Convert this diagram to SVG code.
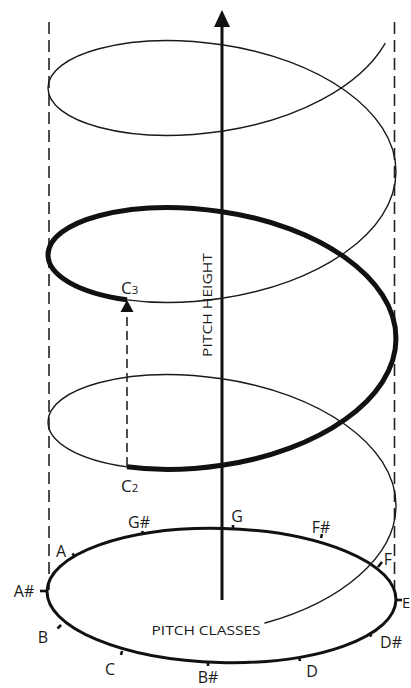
<svg xmlns="http://www.w3.org/2000/svg" width="411" height="688" viewBox="0 0 411 688">
<style>
.bg{fill:#fff}
.guide{fill:none;stroke:#222;stroke-width:1.6;stroke-dasharray:12 6}
.thin{fill:none;stroke:#1a1a1a;stroke-width:1.4;stroke-linecap:round}
.thick{fill:none;stroke:#111;stroke-width:5;stroke-linecap:butt}
.axis{fill:none;stroke:#111;stroke-width:3}
.ring{fill:none;stroke:#111;stroke-width:3}
.tick{stroke:#111;stroke-width:2.6}
.lbl{font-family:"Open Sans","Liberation Sans",sans-serif;font-size:16px;fill:#1a1a1a}
.cap{font-family:"Open Sans","Liberation Sans",sans-serif;font-size:13.5px;fill:#1a1a1a}
.big{font-family:"Open Sans","Liberation Sans",sans-serif;font-size:17px;fill:#1a1a1a}
.sub{font-family:"Open Sans","Liberation Sans",sans-serif;font-size:11.5px;fill:#1a1a1a}
</style>
<rect class="bg" x="0" y="0" width="411" height="688"/>
<g id="guides">
<line class="guide" x1="49" y1="22" x2="49" y2="590"/>
<line class="guide" x1="394.5" y1="22" x2="394.5" y2="597"/>
</g>
<g id="pitch-classes-ring">
<ellipse class="ring" cx="221.5" cy="595.5" rx="174.5" ry="67" transform="rotate(1.48 221.5 595.5)"/>
<line class="tick" x1="233" y1="529" x2="233" y2="525"/>
<line class="tick" x1="143" y1="535" x2="142.2" y2="531"/>
<line class="tick" x1="321" y1="538" x2="322" y2="534"/>
<line class="tick" x1="75" y1="557" x2="72.5" y2="553.5"/>
<line class="tick" x1="378" y1="567" x2="382" y2="562"/>
<line class="tick" x1="47" y1="591" x2="40" y2="591"/>
<line class="tick" x1="396" y1="600" x2="402" y2="600"/>
<line class="tick" x1="61" y1="625" x2="57.5" y2="628.5"/>
<line class="tick" x1="369" y1="633" x2="371.5" y2="636.5"/>
<line class="tick" x1="122" y1="651" x2="121" y2="655"/>
<line class="tick" x1="299" y1="657" x2="300" y2="661"/>
<line class="tick" x1="208" y1="662" x2="208" y2="666"/>
<text class="lbl" x="237" y="522" text-anchor="middle">G</text>
<text class="lbl" x="139" y="528" text-anchor="middle">G#</text>
<text class="lbl" x="321" y="533" text-anchor="middle">F#</text>
<text class="lbl" x="61" y="557" text-anchor="middle">A</text>
<text class="lbl" x="388" y="565" text-anchor="middle">F</text>
<text class="lbl" x="24" y="597" text-anchor="middle">A#</text>
<text class="lbl" x="402" y="608" style="font-size:15px">E</text>
<text class="lbl" x="43" y="643" text-anchor="middle">B</text>
<text class="lbl" x="391" y="648" text-anchor="middle">D#</text>
<text class="lbl" x="110" y="675" text-anchor="middle">C</text>
<text class="lbl" x="312" y="677" text-anchor="middle">D</text>
<text class="lbl" x="208" y="683" text-anchor="middle">B#</text>
<text class="cap" x="206" y="635" text-anchor="middle" textLength="109" lengthAdjust="spacingAndGlyphs">PITCH CLASSES</text>
</g>
<g id="pitch-height-axis">
<line class="axis" x1="222" y1="600" x2="222" y2="24"/>
<path d="M222,10 L230,27 L214,27 Z" fill="#111"/>
<text class="cap" transform="translate(211.5 305) rotate(-90)" text-anchor="middle" textLength="104" lengthAdjust="spacingAndGlyphs">PITCH HEIGHT</text>
</g>
<g id="helix">
<path class="thin" d="M385,43.6 C359.6,87.6 294.7,120.5 222,131.25 C125.9,145.17 48,121.03 48,88 C48,54.97 125.9,30.83 222,44.75 C318.1,58.67 396,110.63 396,171.5 C396,232.37 318.1,284.33 222,298.25 C188.25,303.370 155.28,303.72 127,299.84"/>
<path class="thick" d="M127,299.84 C77.72,292.96 48,274.93 48,255 C48,221.97 125.9,197.83 222,211.75 C318.1,225.67 396,277.63 396,338.5 C396,399.37 318.1,451.33 222,465.25 C188.25,470.37 155.28,470.72 127,466.84"/>
<path class="thin" d="M127,466.84 C77.72,459.96 48,441.93 48,422 C48,388.97 125.9,364.83 222,378.75 C318.1,392.67 396,444.63 396,505.5 C396,556.05 342.03,601.69 265,623"/>
</g>
<g id="connectors">
<line x1="127" y1="466" x2="127" y2="312" stroke="#222" stroke-width="1.6" stroke-dasharray="9 5"/>
<path d="M127,300 L133.5,312 L120.5,312 Z" fill="#111"/>
</g>
<g id="c3">
<text class="big" x="121" y="294">C<tspan class="sub">3</tspan></text>
</g>
<g id="c2">
<text class="big" x="121" y="492">C<tspan class="sub">2</tspan></text>
</g>
</svg>
